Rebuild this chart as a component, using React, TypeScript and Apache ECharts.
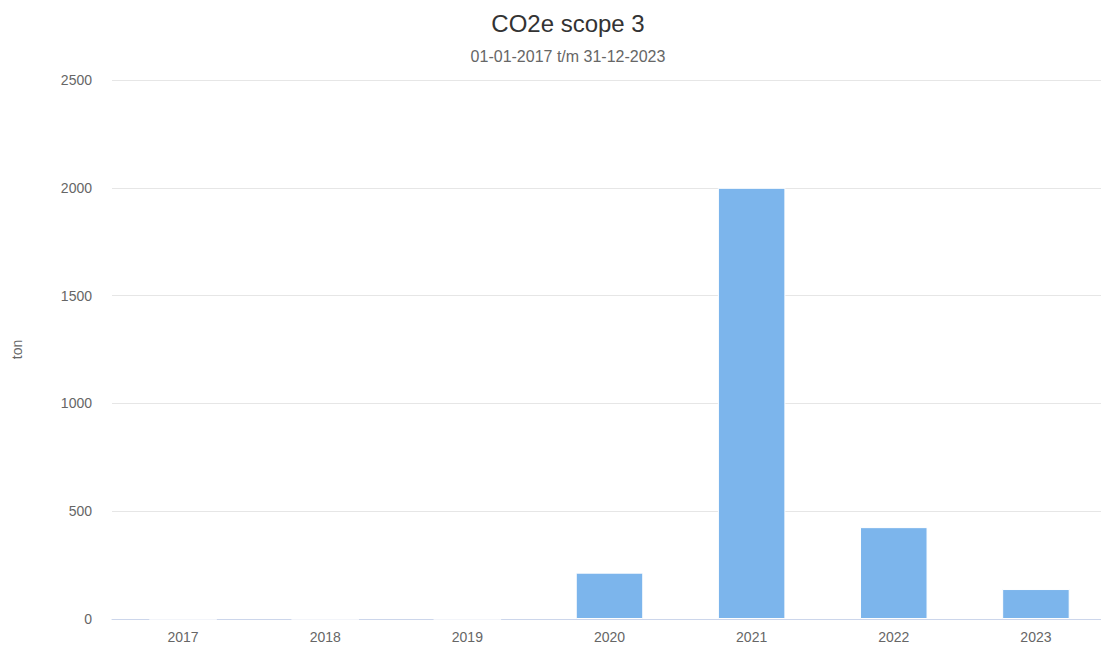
import React, { useEffect, useRef } from "react";
import * as echarts from "echarts";

const categories = ["2017", "2018", "2019", "2020", "2021", "2022", "2023"];
const values = [0, 0, 0, 215, 2000, 426, 139];
const yTicks = { min: 0, max: 2500, interval: 500 };

const FONT = "'Liberation Sans', Arial, sans-serif";

export default function App() {
  const ref = useRef<HTMLDivElement>(null);
  useEffect(() => {
    if (!ref.current) return;
    const chart = echarts.init(ref.current, undefined, { renderer: "svg" });
    chart.setOption({
      animation: false,
      backgroundColor: "#ffffff",
      textStyle: { fontFamily: FONT },
      title: [
        {
          text: "CO2e scope 3",
          left: 563,
          top: 6,
          textAlign: "center",
          textStyle: { fontSize: 24, fontWeight: "normal", color: "#333333", fontFamily: FONT },
        },
        {
          text: "01-01-2017 t/m 31-12-2023",
          left: 563,
          top: 43,
          textAlign: "center",
          textStyle: { fontSize: 16, fontWeight: "normal", color: "#666666", fontFamily: FONT },
        },
      ],
      grid: { left: 112, right: 0, top: 80, bottom: 29, containLabel: false },
      xAxis: {
        type: "category",
        data: categories,
        axisLine: { lineStyle: { color: "#ccd6eb", width: 1 } },
        axisTick: { show: false },
        axisLabel: { color: "#666666", fontSize: 14, margin: 11, fontFamily: FONT },
        splitLine: { show: false },
      },
      yAxis: {
        type: "value",
        min: yTicks.min,
        max: yTicks.max,
        interval: yTicks.interval,
        name: "ton",
        nameLocation: "middle",
        nameGap: 88,
        nameRotate: 90,
        nameTextStyle: { color: "#666666", fontSize: 14, fontFamily: FONT },
        axisLine: { show: false },
        axisTick: { show: false },
        axisLabel: {
          color: "#666666",
          fontSize: 14,
          margin: 20,
          fontFamily: FONT,
          formatter: (v: number) => String(v),
        },
        splitLine: { lineStyle: { color: "#e6e6e6", width: 1 } },
      },
      series: [
        {
          type: "bar",
          data: values,
          barWidth: "47.5%",
          itemStyle: { color: "#7cb5ec", borderColor: "#ffffff", borderWidth: 1 },
        },
      ],
    });
    return () => chart.dispose();
  }, []);
  return (
    <div style={{ position: "fixed", left: 0, top: 0, width: 1101, height: 648, overflow: "hidden" }}>
      <div ref={ref} style={{ position: "absolute", left: 0, top: 0, width: 1107, height: 648 }} />
    </div>
  );
}
